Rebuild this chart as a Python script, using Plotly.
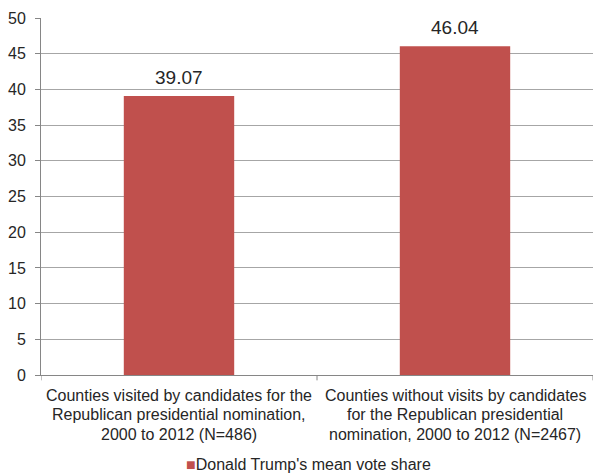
import plotly.graph_objects as go

# Mean vote share for Donald Trump by county group
categories = [
    "Counties visited by candidates for the<br>Republican presidential nomination,<br>2000 to 2012 (N=486)",
    "Counties without visits by candidates<br>for the Republican presidential<br>nomination, 2000 to 2012 (N=2467)",
]
vote_share = [39.07, 46.04]
series_name = "Donald Trump's mean vote share"
y_ticks = list(range(0, 51, 5))

bar_color = "#C0504D"
text_color = "#262626"
grid_color = "#A6A6A6"
axis_color = "#868686"
font_family = "Liberation Sans, Arial, sans-serif"

x_pos = list(range(len(vote_share)))

fig = go.Figure(
    go.Bar(
        x=x_pos,
        y=vote_share,
        name=series_name,
        marker=dict(color=bar_color, line=dict(width=0)),
        width=0.4,
        showlegend=False,
    )
)

# Value labels above each bar
for xi, v in zip(x_pos, vote_share):
    fig.add_annotation(
        x=xi, y=v, xref="x", yref="y",
        text=f"{v:.2f}",
        showarrow=False,
        yanchor="bottom",
        yshift=6,
        font=dict(size=19, color=text_color, family=font_family),
    )

# Category labels, one line at a time for tighter line spacing
line_gap = 19.5
for xi, label in zip(x_pos, categories):
    for k, line in enumerate(label.split("<br>")):
        fig.add_annotation(
            x=xi, y=0, xref="x", yref="paper",
            text=line,
            showarrow=False,
            xanchor="center", yanchor="middle",
            yshift=-20 - k * line_gap,
            font=dict(size=16, color=text_color, family=font_family),
        )

# Legend entry below the chart
fig.add_annotation(
    x=0.484, y=-0.25, xref="paper", yref="paper",
    text=f"<span style='color:{bar_color}'>■</span>{series_name}",
    showarrow=False,
    xanchor="center", yanchor="middle",
    font=dict(size=16, color=text_color, family=font_family),
)

fig.update_layout(
    width=594,
    height=474,
    margin=dict(l=41, r=1, t=18, b=99),
    paper_bgcolor="white",
    plot_bgcolor="white",
    font=dict(family=font_family, size=16, color=text_color),
    showlegend=False,
    xaxis=dict(
        range=[-0.5, 1.5],
        tickvals=x_pos,
        showticklabels=False,
        showgrid=False,
        showline=True,
        linecolor=axis_color,
        linewidth=1,
        ticks="",
        automargin=False,
        fixedrange=True,
    ),
    yaxis=dict(
        range=[0, 50],
        tickvals=y_ticks,
        showgrid=True,
        gridcolor=grid_color,
        gridwidth=1,
        showline=True,
        linecolor=axis_color,
        linewidth=1,
        ticks="outside",
        ticklen=5,
        tickcolor=axis_color,
        ticklabelstandoff=6,
        tickfont=dict(size=16, color=text_color),
        zeroline=False,
        automargin=False,
        fixedrange=True,
    ),
)

# Category boundary ticks below the horizontal axis
for xb in [-0.5, 0.5, 1.5]:
    fig.add_shape(
        type="line", xref="x", yref="paper",
        x0=xb, x1=xb, y0=0, y1=-0.015,
        line=dict(color=axis_color, width=1),
    )

fig.write_html("out.html")
